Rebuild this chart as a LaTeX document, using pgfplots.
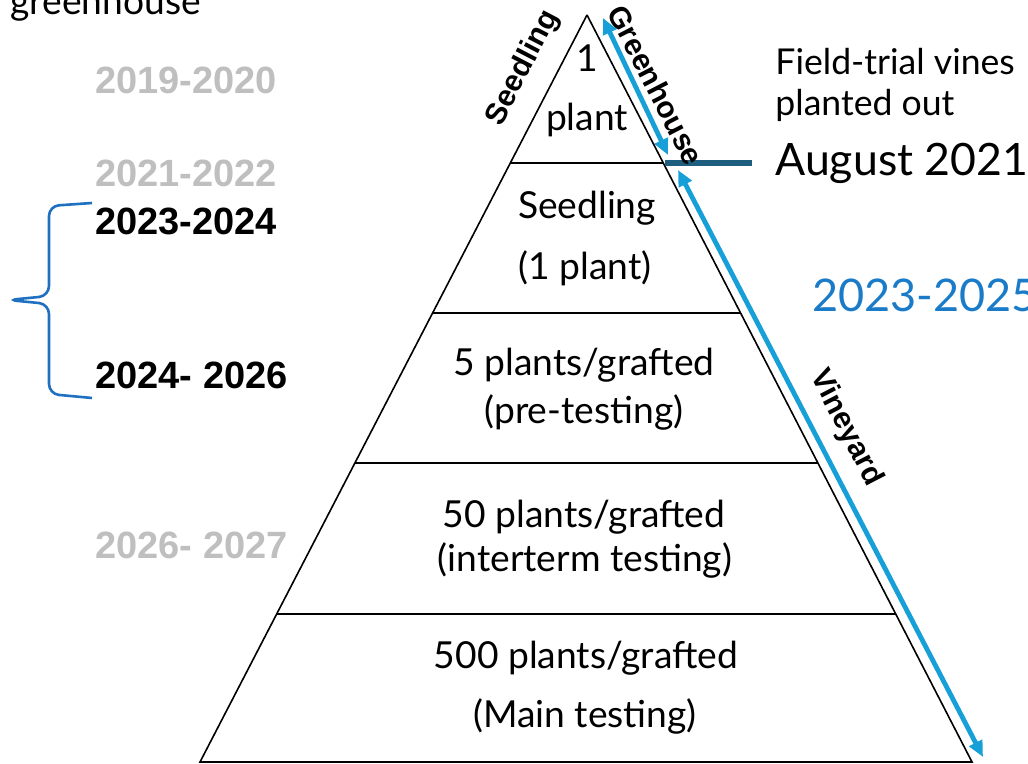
\documentclass[border=0pt]{standalone}
\usepackage{pgfplots}
\pgfplotsset{compat=1.18}
\usepackage{fontspec}
\setmainfont{Lato}
\newfontfamily\arial{Liberation Sans}
\usetikzlibrary{arrows.meta}
\definecolor{arrowblue}{HTML}{179FD8}
\definecolor{braceblue}{HTML}{1F70C1}
\definecolor{textblue}{HTML}{1A7BC8}
\definecolor{teal}{HTML}{1D5E7E}
\definecolor{yeargray}{HTML}{BFBFBF}
\begin{document}
\begin{tikzpicture}
\begin{axis}[scale only axis, width=514pt, height=382pt,
  xmin=0, xmax=1028, ymin=0, ymax=764, y dir=reverse,
  hide axis, clip=false]
% pyramid outline
\addplot[black, line width=0.8pt, line join=miter] coordinates {(587,15) (200,762) (972,762) (587,15)};
% tier lines
\addplot[black, line width=1.1pt] coordinates {(510.3,163) (663.3,163)};
\addplot[black, line width=1.1pt] coordinates {(432.6,313) (740.6,313)};
\addplot[black, line width=1.1pt] coordinates {(354.9,463) (817.9,463)};
\addplot[black, line width=1.1pt] coordinates {(276.7,614) (895.7,614)};
\addplot[black, line width=1.1pt] coordinates {(200,762) (972,762)};
% arrows
\addplot[arrowblue, line width=2.4pt, {Triangle[length=8pt,width=7pt]}-{Triangle[length=8pt,width=7pt]}] coordinates {(603,18) (668,155)};
\addplot[arrowblue, line width=2.4pt, {Triangle[length=8pt,width=7pt]}-{Triangle[length=8pt,width=7pt]}] coordinates {(678,170) (983,757)};
% teal marker line
\addplot[teal, line width=2.6pt] coordinates {(665,163) (752,163)};
% brace
\addplot[braceblue, line width=1.3pt, rounded corners=5pt] coordinates {(92,203) (49,206) (49,296) (8,300) (49,304) (49,394) (92,398)};
% pyramid texts
\node[font=\fontsize{18.6}{20}\selectfont] at (axis cs:587,58) {1};
\node[font=\fontsize{18.6}{20}\selectfont] at (axis cs:587,120) {plant};
\node[font=\fontsize{18.6}{20}\selectfont] at (axis cs:587,208) {Seedling};
\node[font=\fontsize{18.6}{20}\selectfont] at (axis cs:585,268) {(1 plant)};
\node[font=\fontsize{18.6}{20}\selectfont] at (axis cs:584,365) {5 plants/grafted};
\node[font=\fontsize{18.6}{20}\selectfont] at (axis cs:584,412) {(pre-testing)};
\node[font=\fontsize{18.6}{20}\selectfont] at (axis cs:584,517) {50 plants/grafted};
\node[font=\fontsize{18.6}{20}\selectfont] at (axis cs:585,560) {(interterm testing)};
\node[font=\fontsize{18.6}{20}\selectfont] at (axis cs:586,658) {500 plants/grafted};
\node[font=\fontsize{18.6}{20}\selectfont] at (axis cs:585,716) {(Main testing)};
% rotated labels
\node[font=\arial\bfseries\fontsize{15}{17}\selectfont, rotate=62.6, inner sep=0pt] at (axis cs:523,68) {Seedling};
\node[font=\arial\bfseries\fontsize{15}{17}\selectfont, rotate=-62.7, inner sep=0pt] at (axis cs:656,85) {Greenhouse};
\node[font=\arial\bfseries\fontsize{15}{17}\selectfont, rotate=-62.7, inner sep=0pt] at (axis cs:846,428) {Vineyard};
% right texts
\node[font=\fontsize{17.8}{20}\selectfont, anchor=west, inner sep=0pt] at (axis cs:775,62) {Field-trial vines};
\node[font=\fontsize{17.8}{20}\selectfont, anchor=west, inner sep=0pt] at (axis cs:775,105) {planted out};
\node[font=\fontsize{22.3}{24}\selectfont, anchor=west, inner sep=0pt] at (axis cs:775,163) {August 2021};
\node[font=\fontsize{22.5}{24}\selectfont, anchor=west, inner sep=0pt, text=textblue] at (axis cs:812,295) {2023-2025};
% left texts
\node[font=\fontsize{18.6}{20}\selectfont, anchor=base west, inner sep=0pt] at (axis cs:10,15) {greenhouse};
\node[font=\arial\bfseries\fontsize{19}{20}\selectfont, anchor=west, inner sep=0pt, text=yeargray] at (axis cs:95,80) {2019-2020};
\node[font=\arial\bfseries\fontsize{19}{20}\selectfont, anchor=west, inner sep=0pt, text=yeargray] at (axis cs:95,173) {2021-2022};
\node[font=\arial\bfseries\fontsize{19}{20}\selectfont, anchor=west, inner sep=0pt] at (axis cs:95,221) {2023-2024};
\node[font=\arial\bfseries\fontsize{19}{20}\selectfont, anchor=west, inner sep=0pt] at (axis cs:95,375) {2024- 2026};
\node[font=\arial\bfseries\fontsize{19}{20}\selectfont, anchor=west, inner sep=0pt, text=yeargray] at (axis cs:95,545) {2026- 2027};
\end{axis}
\pgfresetboundingbox
\path (current axis.south west) rectangle (current axis.north east);
\end{tikzpicture}
\end{document}
